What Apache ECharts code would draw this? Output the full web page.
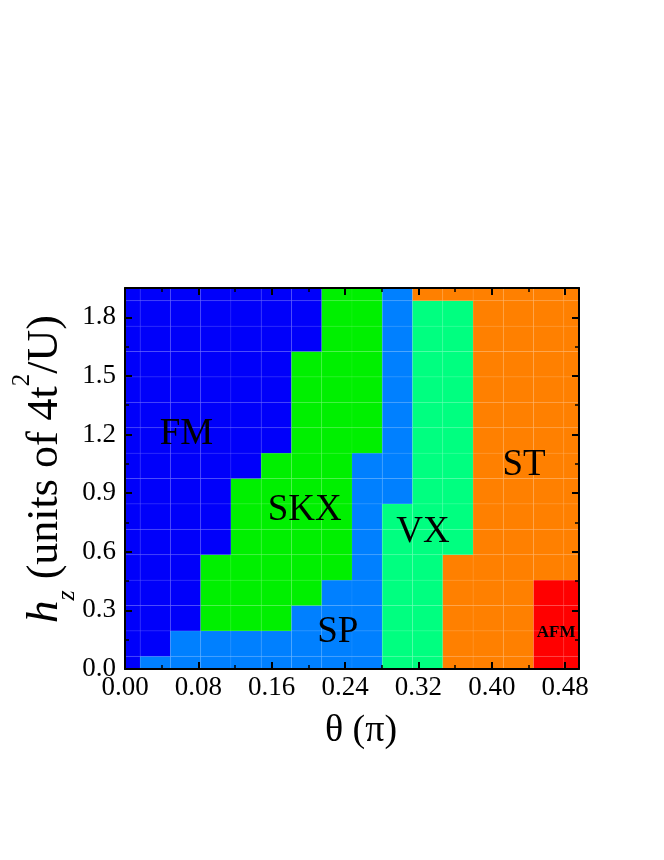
<!DOCTYPE html>
<html>
<head>
<meta charset="utf-8">
<title>Phase diagram</title>
<script src="https://cdn.jsdelivr.net/npm/echarts@6/dist/echarts.min.js"></script>
<style>
  html, body { margin: 0; padding: 0; background: #fff; }
  #chart { width: 664px; height: 860px; }
</style>
</head>
<body>
<div id="chart"></div>
<script>
// cell centres
const thetaValues = [0, 0.033, 0.066, 0.099, 0.132, 0.165, 0.198, 0.231,
  0.264, 0.297, 0.33, 0.363, 0.396, 0.429, 0.462, 0.495];
const hValues = [0, 0.13, 0.26, 0.39, 0.52, 0.65, 0.78, 0.91,
  1.04, 1.17, 1.3, 1.43, 1.56, 1.69, 1.82, 1.95];

// phases
const phaseCodes = ['F', 'P', 'K', 'V', 'T', 'A'];
const phaseNames = ['FM', 'SP', 'SKX', 'VX', 'ST', 'AFM'];
const phaseColors = ['#0000fa', '#0080ff', '#00f000', '#00ff80', '#ff8000', '#ff0000'];

// one string per h row (bottom row first), one letter per theta column
const phaseRows = [
  'FPPPPPPPPVVTTTAA',
  'FFPPPPPPPVVTTTAA',
  'FFFKKKPPPVVTTTAA',
  'FFFKKKKPPVVTTTAA',
  'FFFKKKKKPVVTTTTT',
  'FFFFKKKKPVVVTTTT',
  'FFFFKKKKPVVVTTTT',
  'FFFFKKKKPPVVTTTT',
  'FFFFFKKKPPVVTTTT',
  'FFFFFFKKKPVVTTTT',
  'FFFFFFKKKPVVTTTT',
  'FFFFFFKKKPVVTTTT',
  'FFFFFFKKKPVVTTTT',
  'FFFFFFFKKPVVTTTT',
  'FFFFFFFKKPVVTTTT',
  'FFFFFFFKKPTTTTTT'
];

// phase labels inside the diagram
const labelNames = ['FM', 'SKX', 'SP', 'VX', 'ST', 'AFM'];
const labelTheta = [0.067, 0.196, 0.232, 0.325, 0.435, 0.470];
const labelH = [1.20, 0.81, 0.19, 0.70, 1.045, 0.188];

// axis ticks
const xTickStep = 0.08;
const yTickStep = 0.3;

const serif = '"Liberation Serif", "Times New Roman", serif';

const cellData = [];
phaseRows.forEach((row, j) => {
  row.split('').forEach((code, i) => {
    cellData.push([thetaValues[i], hValues[j], phaseCodes.indexOf(code)]);
  });
});
const dTheta = thetaValues[1] - thetaValues[0];
const dH = hValues[1] - hValues[0];

const chart = echarts.init(document.getElementById('chart'));

const axisBase = {
  type: 'value',
  z: 10,
  axisLine: { show: true, onZero: false, lineStyle: { color: '#000', width: 2 } },
  axisTick: { show: true, inside: true, length: 7, lineStyle: { color: '#000', width: 2 } },
  minorTick: { show: true, splitNumber: 2, length: 4, lineStyle: { color: '#000', width: 1.5 } },
  splitLine: { show: false },
  minorSplitLine: { show: false }
};

const xBase = Object.assign({}, axisBase, {
  min: 0, max: thetaValues[thetaValues.length - 1], interval: xTickStep
});
const yBase = Object.assign({}, axisBase, {
  min: 0, max: hValues[hValues.length - 1], interval: yTickStep
});

const option = {
  animation: false,
  grid: { left: 125, right: 85, top: 288, bottom: 191 },
  xAxis: [
    Object.assign({}, xBase, {
      position: 'bottom',
      axisLabel: {
        show: true, margin: 5, color: '#000', fontSize: 27, fontFamily: serif,
        showMaxLabel: false,
        formatter: v => (v > 0.485 ? '' : v.toFixed(2))
      }
    }),
    Object.assign({}, xBase, { position: 'top', axisLabel: { show: false } })
  ],
  yAxis: [
    Object.assign({}, yBase, {
      position: 'left',
      axisLabel: {
        show: true, margin: 9, color: '#000', fontSize: 27, fontFamily: serif,
        showMaxLabel: false,
        formatter: v => (v > 1.9 ? '' : v.toFixed(1))
      }
    }),
    Object.assign({}, yBase, { position: 'right', axisLabel: { show: false } })
  ],
  series: [
    {
      type: 'custom',
      xAxisIndex: 0,
      yAxisIndex: 0,
      z: 2,
      silent: true,
      clip: true,
      data: cellData,
      renderItem: function (params, api) {
        const t = api.value(0);
        const h = api.value(1);
        const k = api.value(2);
        const p0 = api.coord([t - dTheta / 2, h + dH / 2]);
        const p1 = api.coord([t + dTheta / 2, h - dH / 2]);
        const rect = echarts.graphic.clipRectByRect(
          { x: p0[0], y: p0[1], width: p1[0] - p0[0], height: p1[1] - p0[1] },
          { x: params.coordSys.x, y: params.coordSys.y,
            width: params.coordSys.width, height: params.coordSys.height }
        );
        if (!rect) return;
        return {
          type: 'rect',
          shape: rect,
          style: { fill: phaseColors[k], stroke: 'rgba(255,255,255,0.05)', lineWidth: 1 }
        };
      }
    },
    {
      type: 'custom',
      xAxisIndex: 0,
      yAxisIndex: 0,
      z: 4,
      silent: true,
      data: labelTheta.map((t, i) => [t, labelH[i]]),
      renderItem: function (params, api) {
        const p = api.coord([api.value(0), api.value(1)]);
        const name = labelNames[params.dataIndex];
        const small = name === 'AFM';
        return {
          type: 'text',
          x: p[0],
          y: p[1],
          style: {
            text: name,
            fill: '#000',
            font: (small ? 'bold 17px ' : '37px ') + serif,
            align: 'center',
            verticalAlign: 'middle'
          }
        };
      }
    }
  ],
  graphic: [
    {
      type: 'text',
      x: 361,
      y: 731,
      z: 10,
      style: {
        text: 'θ (π)',
        fill: '#000',
        font: '38px ' + serif,
        align: 'center',
        verticalAlign: 'middle'
      }
    },
    {
      type: 'text',
      x: 45,
      y: 469,
      rotation: Math.PI / 2,
      z: 10,
      style: {
        text: '{h|h}{z|z}{n| (units of 4t}{s|2}{n|/U)}',
        fill: '#000',
        align: 'center',
        verticalAlign: 'middle',
        rich: {
          h: { fontFamily: serif, fontStyle: 'italic', fontSize: 45, lineHeight: 70, fill: '#000' },
          z: { fontFamily: serif, fontStyle: 'italic', fontSize: 26, lineHeight: 54, verticalAlign: 'bottom', fill: '#000' },
          n: { fontFamily: serif, fontSize: 44, lineHeight: 70, fill: '#000' },
          s: { fontFamily: serif, fontSize: 25, lineHeight: 29, verticalAlign: 'top', fill: '#000' }
        }
      }
    }
  ]
};

chart.setOption(option);
</script>
</body>
</html>
